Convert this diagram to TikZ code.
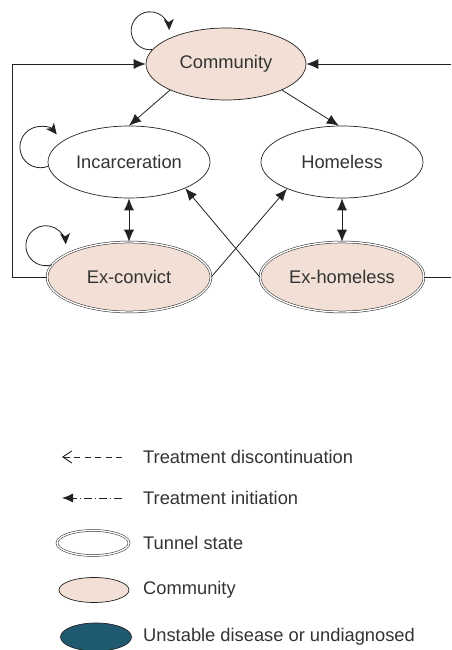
\documentclass[tikz,border=0pt]{standalone}
\usepackage{fontspec}
\setmainfont{Liberation Sans}
\usetikzlibrary{shapes.geometric,arrows.meta}
\definecolor{peach}{HTML}{F2DFD5}
\definecolor{deepteal}{HTML}{1F5A70}
\definecolor{txt}{HTML}{333333}
\definecolor{ln}{HTML}{222222}
\begin{document}
\begin{tikzpicture}[x=1pt,y=1pt,
  font=\fontsize{18.3}{21}\selectfont,
  state/.style={ellipse, draw=ln, line width=0.7pt, minimum width=162pt, minimum height=72pt, inner sep=0pt, text=txt},
  tunnel/.style={state, fill=peach, double, double distance=1.4pt, line width=0.5pt},
  arr/.style={draw=ln, line width=0.8pt, -{Latex[length=12pt,width=10pt]}},
  darr/.style={draw=ln, line width=0.8pt, {Latex[length=12pt,width=10pt]}-{Latex[length=12pt,width=10pt]}},
  loopar/.style={draw=ln, line width=0.8pt, -{Stealth[length=11pt,width=10pt,inset=3pt]}},
  plain/.style={draw=ln, line width=0.8pt},
  keyshape/.style={ellipse, draw=ln, line width=0.7pt, minimum width=72pt, minimum height=25pt, inner sep=0pt},
  keytext/.style={anchor=west, text=txt, inner sep=0pt}]
\useasboundingbox (0,0) rectangle (451,650);

% states
\node[state, fill=peach, minimum width=160pt] (com) at (226,586) {Community};
\node[state] (inc) at (129,488) {Incarceration};
\node[state] (hom) at (342,488) {Homeless};
\node[tunnel, minimum width=164pt, minimum height=70pt] (exc) at (129,373) {Ex-convict};
\node[tunnel, minimum width=164pt, minimum height=70pt] (exh) at (342,373) {Ex-homeless};

% transitions
\draw[arr] (com.205) -- (inc.north);
\draw[arr] (com.-25) -- (hom.95);
\draw[darr] (inc.south) -- (exc.north);
\draw[darr] (hom.south) -- (exh.north);
\draw[arr] (exc.east) -- (hom.206);
\draw[arr] (exh.west) -- (inc.335);

% outer return lines
\coordinate (lc) at (12,373);
\draw[arr] (exc.west) -- (lc) |- (com.west);
\coordinate (rc1) at (451,373);
\coordinate (rc2) at (451,586);
\draw[plain] (exh.east) -- (rc1);
\draw[arr] (rc2) -- (com.east);

% self loops
\draw[loopar] (com.169) arc[start angle=-84, end angle=-358, radius=19];
\draw[loopar] (inc.183) arc[start angle=-68, end angle=-322, radius=20.6];
\draw[loopar] (exc.171) arc[start angle=-72.5, end angle=-356, radius=20];

% legend
\coordinate (k1a) at (62,193);
\coordinate (k1b) at (122,193);
\draw[draw=ln, line width=0.8pt, dash pattern=on 6pt off 4.5pt, -{Straight Barb[length=9pt,width=12pt,line width=0.9pt]}] (k1b) -- (k1a);
\node[keytext] (t1) at (143,193) {Treatment discontinuation};

\coordinate (k2a) at (62,152);
\coordinate (k2b) at (122,152);
\draw[draw=ln, line width=0.9pt, dash pattern=on 8pt off 3pt on 1pt off 3pt, -{Latex[length=11pt,width=9pt]}] (k2b) -- (k2a);
\node[keytext] (t2) at (143,152) {Treatment initiation};

\node[keyshape, double, double distance=1.4pt, line width=0.5pt, fill=white] (k3) at (93,107) {};
\node[keytext] (t3) at (143,107) {Tunnel state};

\node[keyshape, fill=peach, minimum width=70pt] (k4) at (94,60) {};
\node[keytext] (t4) at (143,60) {Community};

\node[keyshape, fill=deepteal, minimum width=71pt, minimum height=28pt] (k5) at (96,13) {};
\node[keytext] (t5) at (143,13) {Unstable disease or undiagnosed};
\end{tikzpicture}
\end{document}
